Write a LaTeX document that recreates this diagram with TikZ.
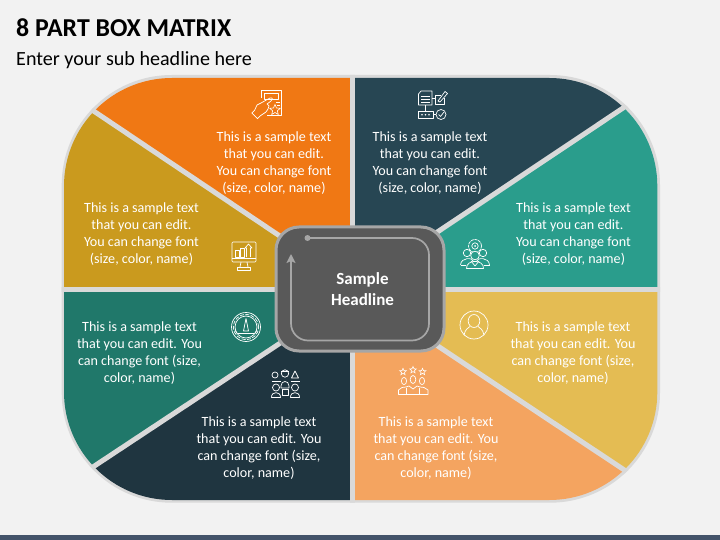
\documentclass[tikz,border=0pt]{standalone}
\usepackage{fontspec}
\setmainfont{Carlito}
\usetikzlibrary{calc, arrows.meta, shapes.geometric}
\definecolor{pageback}{HTML}{F2F2F2}
\definecolor{framegray}{HTML}{D9D9D9}
\definecolor{footbar}{HTML}{44546A}
\definecolor{partorange}{HTML}{F07814}
\definecolor{partnavy}{HTML}{274653}
\definecolor{partteal}{HTML}{2A9D8C}
\definecolor{partgold}{HTML}{E4BC53}
\definecolor{partpeach}{HTML}{F4A460}
\definecolor{partdark}{HTML}{1F3540}
\definecolor{partgreen}{HTML}{20786A}
\definecolor{partmustard}{HTML}{CA9A1E}
\definecolor{hubgray}{HTML}{595959}
\definecolor{hubline}{HTML}{A6A6A6}
\tikzset{
  sampletext/.style={text=white, align=center, inner sep=0pt, font=\fontsize{14.1}{17}\selectfont},
  icon/.style={draw=white, line width=0.7pt, line join=round},
  starmark/.style={star, star points=5, star point ratio=2.2, draw=white, line width=0.6pt, inner sep=0pt, minimum size=#1},
  divider/.style={framegray, line width=5pt},
}
\newcommand{\textfour}{This is a sample text\\that you can edit.\\You can change font\\(size, color, name)}
\newcommand{\textwrap}{This is a sample text\\that you can edit. You\\can change font (size,\\color, name)}
\begin{document}
\begin{tikzpicture}[x=1pt, y=-1pt, >=latex]
\useasboundingbox (0,0) rectangle (720,540);
\fill[pageback] (0,0) rectangle (720,540);
\fill[footbar] (0,535) rectangle (720,540);
\node[anchor=base west, inner sep=0pt, font=\fontsize{25.8}{30}\selectfont\bfseries] (title) at (16,37) {8 PART BOX MATRIX};
\node[anchor=base west, inner sep=0pt, font=\fontsize{20.1}{24}\selectfont] (subtitle) at (16,66) {Enter your sub headline here};
% points of the frame
\coordinate (M) at (352,289);
\coordinate (MTL) at (352,284.5);
\coordinate (MBL) at (352,295.6);
\coordinate (T) at (352,60);
\coordinate (B) at (352,520);
\coordinate (L) at (40,289);
\coordinate (R) at (680,289);
\coordinate (TLd) at (40,75);
\coordinate (TRd) at (680,70);
\coordinate (BLd) at (40,502);
\coordinate (BRd) at (680,507);
\fill[framegray, rounded corners=110pt] (61.7,75) rectangle (660,502.7);
\begin{scope}
\clip[rounded corners=108pt] (64,78) rectangle (657.3,500);
\fill[partorange] (MTL) -- (T) -- (40,60) -- (TLd) -- cycle;
\fill[partnavy] (M) -- (T) -- (680,60) -- (TRd) -- cycle;
\fill[partteal] (M) -- (TRd) -- (R) -- cycle;
\fill[partgold] (M) -- (R) -- (BRd) -- cycle;
\fill[partpeach] (M) -- (BRd) -- (680,520) -- (B) -- cycle;
\fill[partdark] (MBL) -- (B) -- (40,520) -- (BLd) -- cycle;
\fill[partgreen] (MBL) -- (BLd) -- (L) -- (M) -- cycle;
\fill[partmustard] (M) -- (L) -- (TLd) -- (MTL) -- cycle;
\end{scope}
\begin{scope}
\clip[rounded corners=110pt] (61.7,75) rectangle (660,502.7);
\draw[divider] (T) -- (B);
\draw[divider] (L) -- (R);
\draw[divider] (TLd) -- (MTL);
\draw[divider] (BLd) -- (MBL);
\draw[divider] (BRd) -- (M) -- (TRd);
\end{scope}
% centre box
\node[draw=hubline, fill=hubgray, line width=3pt, rounded corners=23pt, minimum width=168pt, minimum height=124pt, inner sep=0pt] (hub) at (360,289) {};
\node[text=white, align=center, inner sep=0pt, font=\fontsize{17}{21}\selectfont\bfseries] (hubtext) at (362.5,289) {Sample\\Headline};
\coordinate (hubdot) at (307.5,238);
\coordinate (hubtip) at (291,254);
\fill[hubline] (hubdot) circle (3pt);
\draw[hubline, line width=1.7pt, -{Stealth[length=9pt,width=9pt,inset=2pt]}, rounded corners=17pt] (hubdot) -- (429,238) -- (429,340.5) -- (291,340.5) -- (hubtip);
% texts
\node[sampletext] (txtorange) at (274,163.5) {\textfour};
\node[sampletext] (txtnavy) at (430,163.5) {\textfour};
\node[sampletext] (txtmustard) at (141.5,234.5) {\textfour};
\node[sampletext] (txtteal) at (573.5,234.5) {\textfour};
\node[sampletext] (txtgreen) at (139.5,353) {\textwrap};
\node[sampletext] (txtgold) at (573,353) {\textwrap};
\node[sampletext] (txtdark) at (259,448) {\textwrap};
\node[sampletext] (txtpeach) at (436,448) {\textwrap};
% hand icon
\draw[icon] (261,98) -- (261,90.5) -- (281,90.5) -- (281,115.5) -- (267,115.5);
\draw[icon] (264,93) rectangle (278,99);
\draw[icon] (276,102) -- (280,102) (277,105) -- (280,105);
\draw[icon] (251.8,113) -- (254.5,110.5) -- (257,105) -- (261,103) -- (270,98) .. controls (273,97) and (273,100) .. (271,101) -- (267,104) -- (269,106) -- (268,109) -- (266,112) -- (260,116) -- (257.5,118.7) -- cycle;
\node[starmark=11pt] (handstar) at (275,110) {};
% form icon
\draw[icon] (418.5,94) -- (421,91) -- (432,91) -- (432,105) -- (418.5,105) -- cycle;
\draw[icon] (421,96) -- (430,96) (421,99) -- (430,99) (421,102) -- (430,102);
\draw[icon] (425,105) -- (425,111) (432,98) -- (435,98);
\draw[icon] (418.5,111) rectangle (433,118.5);
\foreach \dx in {422,425.5,429} {\fill[white] (\dx,114.7) circle (0.9pt);}
\draw[icon] (433,114.5) -- (436,114.5);
\draw[icon] (441,114.5) circle (5pt);
\draw[icon] (438.5,114.5) -- (440.5,116.5) -- (444,112);
\draw[icon] (441,95) -- (435,95) -- (435,104) -- (444,104) -- (444,98);
\draw[icon] (438,101) -- (445,91.5) -- (447.5,93.5) -- (440,102) -- cycle;
% monitor icon
\draw[icon, rounded corners=1pt] (232,242) rectangle (256,262);
\draw[icon] (232,258.5) -- (256,258.5);
\draw[icon] (235,250) rectangle (239,257);
\draw[icon] (240.5,248) rectangle (244.5,257);
\draw[icon] (246.5,257) -- (246.5,248) -- (245,248) -- (248.5,244) -- (252,248) -- (250.5,248) -- (250.5,257);
\draw[icon] (241,262) -- (240,267) (247,262) -- (248,267);
\draw[icon] (237.5,267) rectangle (250.5,270);
% team icon
\draw[icon, dash pattern=on 3pt off 0.8pt] (475,246) circle (6.5pt);
\draw[icon] (475,246) circle (3.2pt);
\fill[white] (475,246) circle (1pt);
\draw[icon, fill=partteal] (467,253) circle (3.7pt);
\draw[icon, fill=partteal] (483,253) circle (3.7pt);
\draw[icon, fill=partteal] (475,255.5) circle (4.3pt);
\draw[icon] (460.5,265) .. controls (461,257) and (473,257) .. (474,262);
\draw[icon] (489.5,265) .. controls (489,257) and (477,257) .. (476,262);
\draw[icon] (460.5,265) -- (466,265) (484,265) -- (489.5,265);
\draw[icon] (466.5,268.5) .. controls (466,259) and (484,259) .. (483.5,268.5) -- cycle;
\draw[icon] (471,261) -- (475,266) -- (479,261);
% gauge icon
\draw[icon] (246,327) circle (14.5pt);
\draw[icon] (246,327) circle (11pt);
\draw[icon, dash pattern=on 4pt off 1.5pt] (246,327) circle (12.7pt);
\draw[icon] (246,318.5) -- (243.5,331) -- (248.5,331) -- cycle;
\draw[icon] (238,333.5) -- (254,333.5);
\draw[icon] (235,330) -- (237,333.5) (257,330) -- (255,333.5);
% people icon
\draw[icon] (275,375) circle (3pt);
\draw[icon] (285,373.5) circle (3.7pt);
\draw[icon] (281,371) -- (289,371);
\draw[icon] (295,371) -- (298.5,378) -- (291.5,378) -- cycle;
\draw[icon] (281,386) .. controls (281,380) and (289,380) .. (289,386) -- (289,388) -- (281,388) -- cycle;
\draw[icon] (276,387.5) circle (3.5pt);
\draw[icon] (295,387.5) circle (3.5pt);
\draw[icon] (271.5,381) -- (280.5,381) (290.5,381) -- (299.5,381);
\draw[icon] (271.5,397.5) .. controls (271,391) and (281,391) .. (280.5,397.5) -- cycle;
\draw[icon] (290.5,397.5) .. controls (290,391) and (300,391) .. (299.5,397.5) -- cycle;
\draw[icon] (282,389.5) rectangle (288.5,395.5);
% rating icon
\node[starmark=7pt] (ratestara) at (403,371.8) {};
\node[starmark=7pt] (ratestarb) at (413,370) {};
\node[starmark=7pt] (ratestarc) at (422.5,371.8) {};
\draw[icon] (404,381) ellipse (2.6pt and 3.6pt);
\draw[icon] (413,379.5) ellipse (2.8pt and 4pt);
\draw[icon] (422,381) ellipse (2.6pt and 3.6pt);
\draw[icon] (398.5,394.5) -- (398.5,390) -- (402,387.5) -- (406,387) -- (409,386) -- (413,389) -- (417,386) -- (420,387) -- (424,387.5) -- (428,390) -- (428,394.5) -- cycle;
\draw[icon] (406,387.5) -- (406,394.5) (419.5,387.5) -- (419.5,394.5);
% user icon
\draw[icon] (474,325) circle (14pt);
\draw[icon] (474,321) ellipse (5.8pt and 6.5pt);
\draw[icon] (464,335) .. controls (465,329) and (469,327.5) .. (470,326.5) (484,335) .. controls (483,329) and (479,327.5) .. (478,326.5);
\end{tikzpicture}
\end{document}
